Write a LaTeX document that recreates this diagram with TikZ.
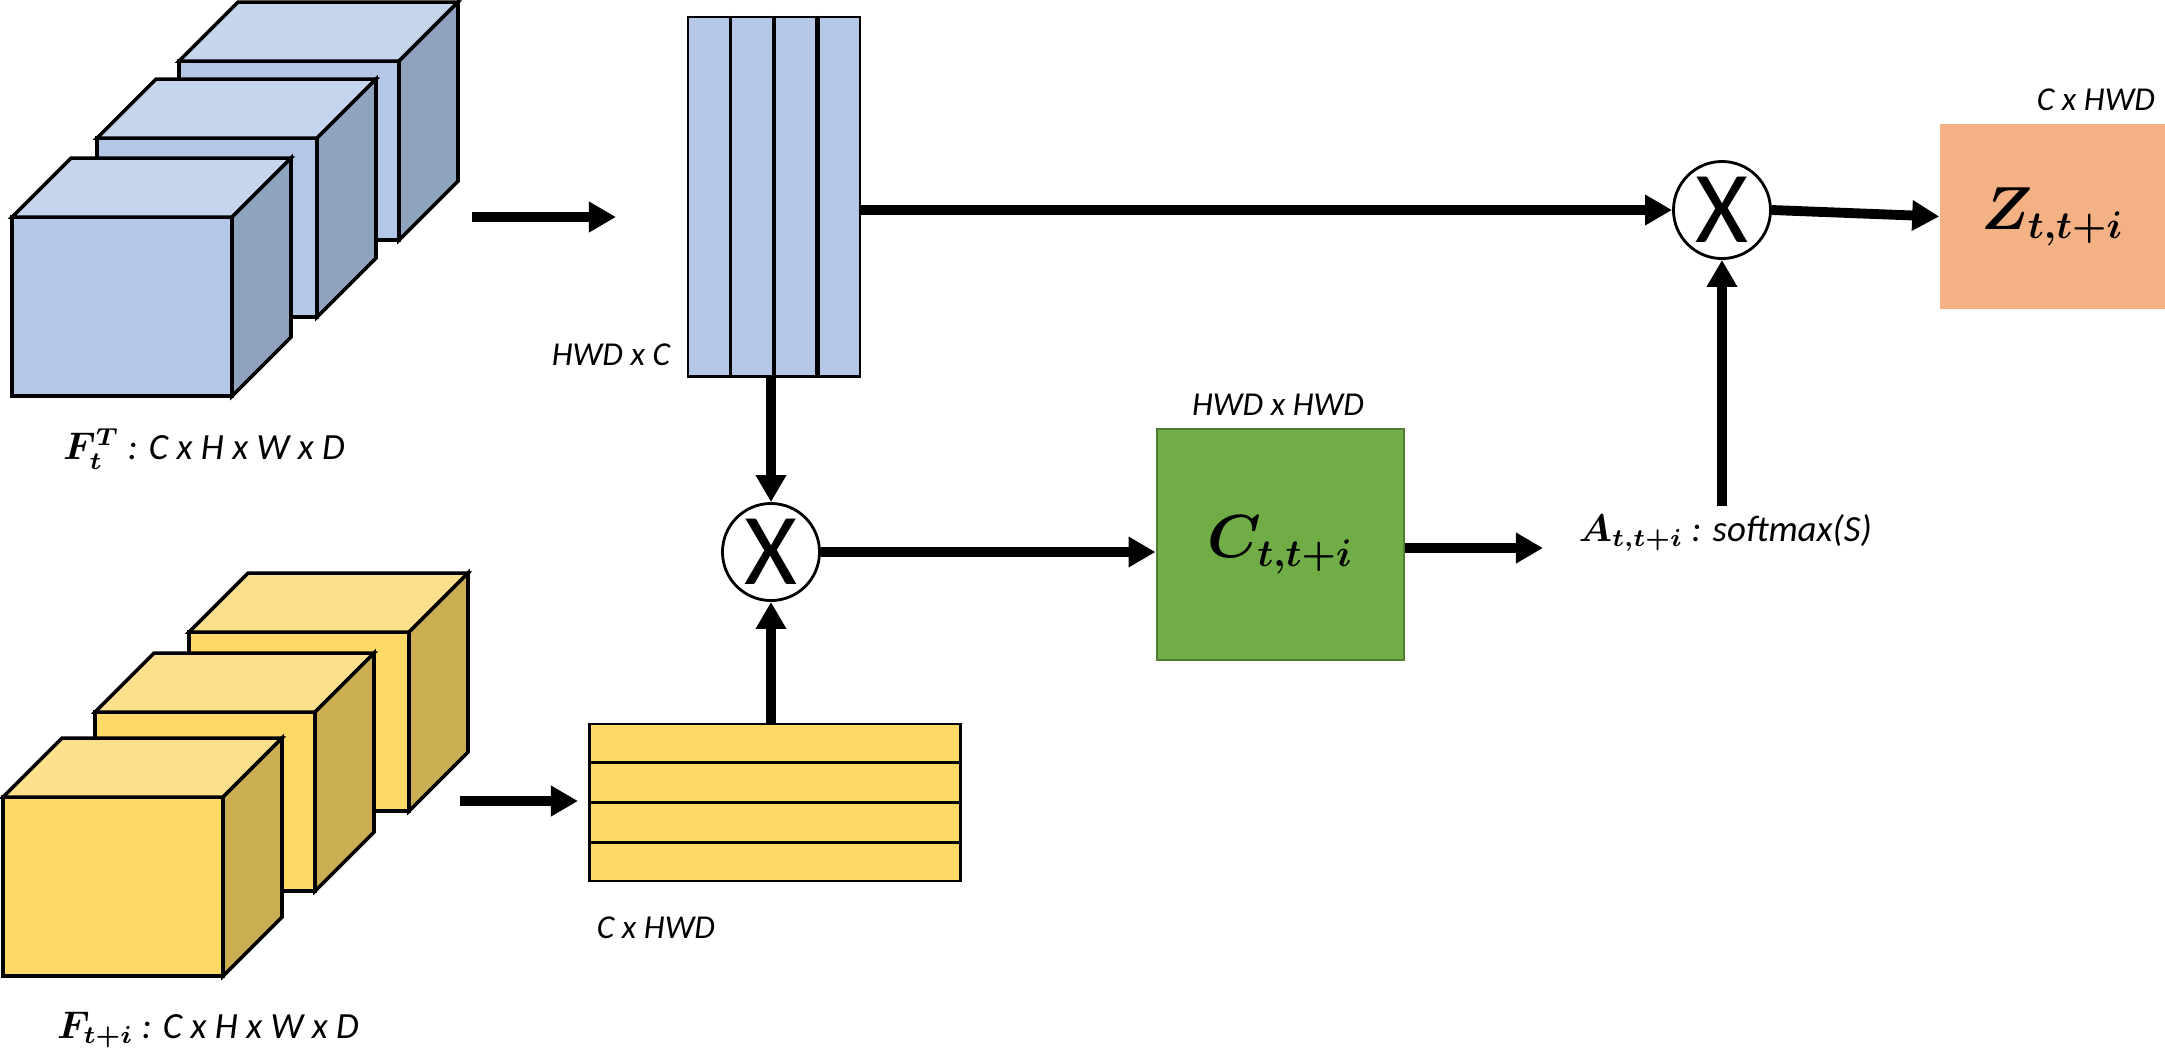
\documentclass[tikz,border=0pt]{standalone}
\usepackage{fontspec}
\setmainfont{Carlito}
\usepackage{bm}
\usetikzlibrary{arrows.meta,calc}
\definecolor{bluefront}{HTML}{B4C7E7}
\definecolor{bluetop}{HTML}{C5D5ED}
\definecolor{blueside}{HTML}{8FA3BF}
\definecolor{yelfront}{HTML}{FFD966}
\definecolor{yeltop}{HTML}{FDE08C}
\definecolor{yelside}{HTML}{CCAE52}
\definecolor{greenbox}{HTML}{70AD47}
\definecolor{greenline}{HTML}{507E32}
\definecolor{orangebox}{HTML}{F4B183}
\newcommand{\mycube}[3]{%
  \filldraw[cubeline, fill=#3front] (#1,#2) rectangle ++(220,179);
  \filldraw[cubeline, fill=#3top] (#1,#2) -- ++(59,-59) -- ++(220,0) -- ++(-59,59) -- cycle;
  \filldraw[cubeline, fill=#3side] (#1+220,#2) -- ++(59,-59) -- ++(0,179) -- ++(-59,59) -- cycle;
}
\begin{document}
\begin{tikzpicture}[x=0.01cm, y=-0.01cm, line join=miter,
  cubeline/.style={line width=1pt, draw=black},
  arr/.style={line width=2.8pt, -{Triangle[length=0.27cm,width=0.29cm]}},
  dimlabel/.style={font=\fontsize{9.5}{11}\selectfont\itshape, inner sep=0},
  flabel/.style={font=\fontsize{10.5}{12}\selectfont, inner sep=0},
  mulnode/.style={circle, draw, line width=0.8pt, fill=white, minimum size=0.97cm, inner sep=0, font=\fontsize{29}{30}\selectfont},
  matbox/.style={draw, line width=0.8pt, inner sep=0}
]
\useasboundingbox (0,0) rectangle (2165,1053);

% blue cubes
\mycube{179}{61}{blue}
\mycube{97}{138}{blue}
\mycube{12}{217}{blue}
\node[flabel] (flab1) at (204,449) {$\bm{F_t^T}$ \itshape: C x H x W x D};

% yellow cubes
\mycube{189}{632}{yel}
\mycube{95}{712}{yel}
\mycube{3}{797}{yel}
\node[flabel] (flab2) at (208,1030) {$\bm{F_{t+i}}$ \itshape: C x H x W x D};

% blue column matrix
\node[matbox, fill=bluefront, minimum width=1.72cm, minimum height=3.59cm] (kcol) at (774,196.5) {};
\foreach \f/\w in {0.25/1pt,0.5/1pt,0.75/1.4pt}
  \draw[line width=\w] ($(kcol.north west)!\f!(kcol.north east)$) -- ($(kcol.south west)!\f!(kcol.south east)$);
\node[dimlabel] (lab1) at (611,355) {HWD x C};

% yellow row matrix
\node[matbox, fill=yelfront, minimum width=3.7cm, minimum height=1.57cm] (vbar) at (775,802.5) {};
\foreach \f in {0.25,0.5,0.75}
  \draw[line width=1pt] ($(vbar.north west)!\f!(vbar.south west)$) -- ($(vbar.north east)!\f!(vbar.south east)$);
\node[dimlabel] (lab2) at (656,928) {C x HWD};

% multiplication nodes
\node[mulnode] (m1) at (771,552) {X};
\node[mulnode] (m2) at (1722,210) {X};

% green box
\node[draw=greenline, line width=0.8pt, fill=greenbox, minimum width=2.47cm, minimum height=2.31cm, inner sep=0,
  font=\fontsize{16}{18}\selectfont] (cbox) at (1280.5,544.5) {$\bm{C_{t,t+i}}$};
\node[dimlabel] (lab3) at (1278,405) {HWD x HWD};

% orange box
\node[fill=orangebox, minimum width=2.25cm, minimum height=1.85cm, inner sep=0,
  font=\fontsize{16}{18}\selectfont] (zbox) at (2052.5,216.5) {$\bm{Z_{t,t+i}}$};
\node[dimlabel] (lab4) at (2096,100) {C x HWD};

% A label
\node[flabel, anchor=base west, inner ysep=2pt] (alabel) at (1578,541) {$\bm{A_{t,t+i}}$ \itshape: softmax(S)};

% arrow end points
\coordinate (b1) at (472,217);
\coordinate (b2) at (616,217);
\coordinate (y1) at (460,801);
\coordinate (y2) at (578,801);
\coordinate (aend) at (1543,548);

% connectors
\draw[arr] (b1) -- (b2);
\draw[arr] (y1) -- (y2);
\draw[arr] (kcol.east |- m2.west) -- (m2.west);
\draw[arr] (m2.east) -- (zbox.west);
\draw[arr] (m1 |- kcol.south) -- (m1.north);
\draw[arr] (m1 |- vbar.north) -- (m1.south);
\draw[arr] (m1.east) -- (m1.east -| cbox.west);
\draw[arr] (cbox.east |- aend) -- (aend);
\draw[arr] (m2 |- alabel.north) -- (m2.south);
\end{tikzpicture}
\end{document}
